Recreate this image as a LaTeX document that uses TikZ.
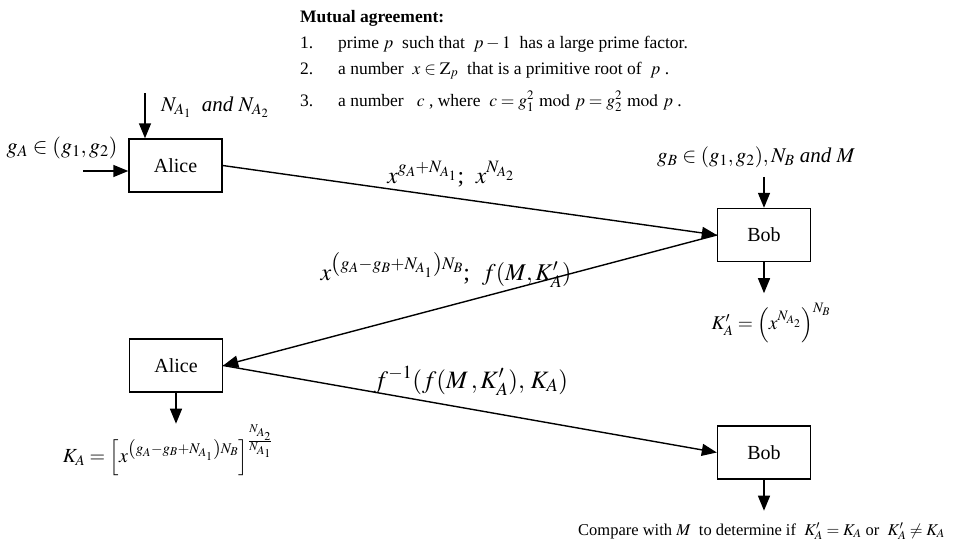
\documentclass[tikz,border=0pt]{standalone}
\usepackage{mathptmx}
\usepackage{fontspec}
\setmainfont{Liberation Serif}
\usetikzlibrary{arrows.meta,calc}
\tikzset{
  party/.style={draw, line width=1.4pt, minimum width=93pt, minimum height=53pt, inner sep=0pt,
    font=\fontsize{20}{24}\selectfont},
  flow/.style={line width=1.4pt, -{Triangle[length=15pt,width=12pt]}},
  mlabel/.style={inner sep=0pt, font=\fontsize{21}{25}\selectfont},
  listtxt/.style={inner sep=0pt, anchor=base west, font=\fontsize{17.5}{21}\selectfont}
}
\begin{document}
\begin{tikzpicture}[x=1pt,y=-1pt]
\useasboundingbox (0,0) rectangle (963,541);
% boxes
\node[party] (A1) at (175.5,165.5) {Alice};
\node[party] (B1) at (764,235) {Bob};
\node[party] (A2) at (176,365.5) {Alice};
\node[party] (B2) at (764,452.5) {Bob};
% mutual agreement
\node[listtxt, font=\fontsize{17.5}{21}\selectfont\bfseries] (h) at (300,22) {Mutual agreement:};
\node[listtxt] (n1) at (300,48) {1.};
\node[listtxt] (t1) at (338,48) {prime $p$ \ such that \ $p-1$ \ has a large prime factor.};
\node[listtxt] (n2) at (300,74) {2.};
\node[listtxt] (t2) at (338,74) {a number \ $x\in\mathrm{Z}_p$ \ that is a primitive root of \ $p$ .};
\node[listtxt] (n3) at (300,106) {3.};
\node[listtxt] (t3) at (338,106) {a number \ \ $c$ , where \ $c=g_1^2 \bmod p = g_2^2 \bmod p$ .};
% inputs
\node[mlabel] (lNA) at (215,107) {$N_{A_1}$ \ \textit{and} $N_{A_2}$};
\node[mlabel, font=\fontsize{22}{26}\selectfont] (lgA) at (62,148) {$g_A\in\left(g_1,g_2\right)$};
\node[mlabel] (lgB) at (756,157) {$g_B\in\left(g_1,g_2\right)\!,N_B$ \textit{and} $M$};
\coordinate (cA1top) at (145,93);
\coordinate (cA1left) at (83,171);
\coordinate (cB1top) at ($(B1.north)+(0,-31)$);
\draw[flow] (cA1top) -- (cA1top |- A1.north);
\draw[flow] (cA1left) -- (cA1left -| A1.west);
\draw[flow] (cB1top) -- (B1.north);
% outputs
\node[mlabel, font=\fontsize{19.5}{24}\selectfont] (lKp) at (771,323) {$K'_A=\left(x^{N_{A_2}}\right)^{N_B}$};
\node[mlabel, font=\fontsize{20}{24}\selectfont] (lKA) at (168,450) {$K_A=\left[x^{\left(g_A-g_B+N_{A_1}\right)N_B}\right]^{\frac{N_{A_2}}{N_{A_1}}}$};
\node[listtxt, font=\fontsize{16.5}{20}\selectfont] (lcmp) at (578,535) {Compare with $M$ \ to determine if \ $K'_A=K_A$ or \ $K'_A\neq K_A$};
\draw[flow] (B1.south) -- ++(0,31);
\draw[flow] (A2.south) -- ++(0,31);
\draw[flow] (B2.south) -- ++(0,31);
% messages
\draw[flow] (A1.east) -- (B1.west);
\draw[flow] (B1.west) -- (A2.east);
\draw[flow] (A2.east) -- (B2.west);
\node[mlabel, font=\fontsize{23.5}{28}\selectfont] (m1) at (451,174) {$x^{g_A+N_{A_1}}$; \ $x^{N_{A_2}}$};
\node[mlabel, font=\fontsize{24}{28}\selectfont] (m2) at (446,270) {$x^{\left(g_A-g_B+N_{A_1}\right)N_B}$; \ $f\!\left(M,K'_A\right)$};
\node[mlabel, font=\fontsize{25}{30}\selectfont] (m3) at (471,381) {$f^{-1}\!\left(f\!\left(M\,,K'_A\right)\!,\,K_A\right)$};
\end{tikzpicture}
\end{document}
